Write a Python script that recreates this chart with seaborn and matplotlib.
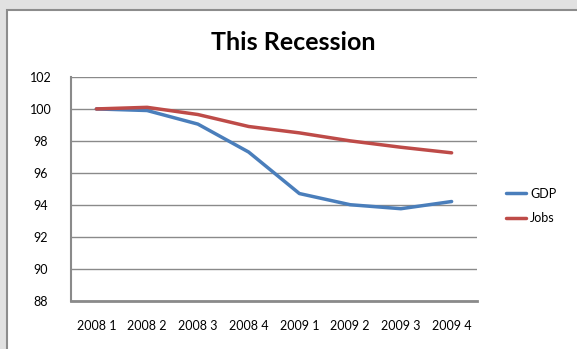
import pandas as pd
import matplotlib.pyplot as plt
import matplotlib.patches as mpatches
import seaborn as sns

# -----------------------------
# Data
# -----------------------------
quarters = ['2008 1', '2008 2', '2008 3', '2008 4', '2009 1', '2009 2', '2009 3', '2009 4']
gdp = [100.0, 99.9, 99.05, 97.3, 94.7, 94.0, 93.75, 94.2]
jobs = [100.0, 100.1, 99.65, 98.9, 98.5, 98.0, 97.6, 97.25]
y_ticks = [88, 90, 92, 94, 96, 98, 100, 102]

df = pd.DataFrame({
    'quarter': quarters * 2,
    'value': gdp + jobs,
    'series': ['GDP'] * len(quarters) + ['Jobs'] * len(quarters),
})

sns.set_style('white')
plt.rcParams['font.family'] = ['Lato', 'DejaVu Sans']
plt.rcParams['text.color'] = 'black'

fig = plt.figure(figsize=(5.77, 3.49), dpi=100, facecolor='#e1e1e1')

# white chart area with grey border, like the spreadsheet frame
frame = mpatches.Rectangle((7 / 577, -0.05), 1.0, 1.05 - 10 / 349,
                           transform=fig.transFigure, facecolor='white',
                           edgecolor='#8c8c8c', linewidth=1.5, zorder=-5)
fig.patches.append(frame)

ax = fig.add_axes([71 / 577, 1 - 300.5 / 349, 406 / 577, 223.5 / 349])
ax.set_zorder(2)
ax.set_facecolor('none')

sns.lineplot(data=df, x='quarter', y='value', hue='series', sort=False,
             palette={'GDP': '#4a7ebb', 'Jobs': '#be4b48'},
             linewidth=2.5, ax=ax, legend=False)

ax.set_xlim(-0.5, len(quarters) - 0.5)
ax.set_ylim(88, 102)
ax.set_yticks(y_ticks)
ax.set_xticks(range(len(quarters)))
ax.set_xticklabels(quarters)
ax.grid(axis='y', color='#8a8a8a', linewidth=1.0)
ax.set_axisbelow(True)
ax.tick_params(axis='both', length=0, labelsize=9, colors='black')
ax.tick_params(axis='x', pad=14)
ax.tick_params(axis='y', pad=22)
for t in ax.get_yticklabels():
    t.set_horizontalalignment('center')
ax.set_xlabel('')
ax.set_ylabel('')

for side in ['top', 'right']:
    ax.spines[side].set_visible(False)
ax.spines['left'].set_color('#8a8a8a')
ax.spines['left'].set_linewidth(1.5)
ax.spines['bottom'].set_color('#8a8a8a')
ax.spines['bottom'].set_linewidth(2.0)

fig.text(293 / 577, 1 - 43 / 349, 'This Recession', ha='center', va='center',
         fontsize=18, fontweight='bold', color='black')

handles = [plt.Line2D([], [], color='#4a7ebb', linewidth=2.5),
           plt.Line2D([], [], color='#be4b48', linewidth=2.5)]
fig.legend(handles, ['GDP', 'Jobs'], loc='center left',
           bbox_to_anchor=(495 / 577, 1 - 206 / 349), frameon=False,
           fontsize=9, handlelength=1.6, handletextpad=0.3, labelspacing=1.0)

plt.savefig('out.png', dpi=100, facecolor=fig.get_facecolor())
